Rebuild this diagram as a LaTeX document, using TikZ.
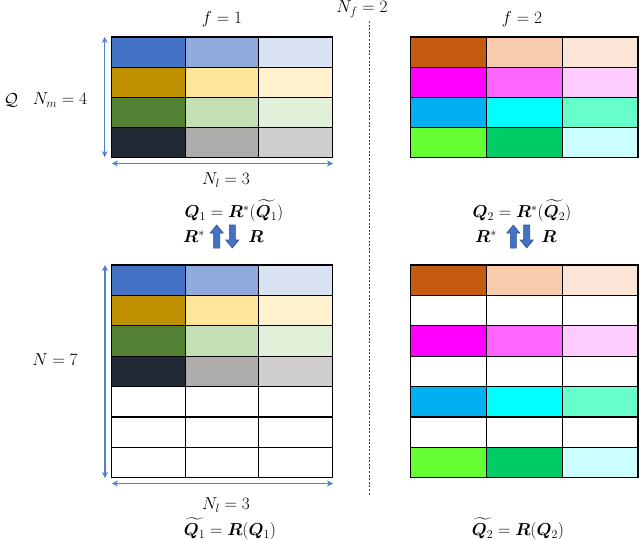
\documentclass[tikz,border=0pt]{standalone}
\usepackage{amsmath,amssymb,bm}
\usetikzlibrary{arrows.meta}
\definecolor{dimblue}{HTML}{4F7FD0}
\definecolor{arrfill}{HTML}{4472C4}
\definecolor{arredge}{HTML}{2F528F}
% left palette
\definecolor{La}{HTML}{4472C4}\definecolor{Lb}{HTML}{8FAADC}\definecolor{Lc}{HTML}{DAE3F3}
\definecolor{Ld}{HTML}{BF9000}\definecolor{Le}{HTML}{FFE699}\definecolor{Lf}{HTML}{FFF2CC}
\definecolor{Lg}{HTML}{548235}\definecolor{Lh}{HTML}{C5E0B4}\definecolor{Li}{HTML}{E2F0D9}
\definecolor{Lj}{HTML}{222A35}\definecolor{Lk}{HTML}{AEABAB}\definecolor{Ll}{HTML}{D0CECE}
% right palette
\definecolor{Ra}{HTML}{C55A11}\definecolor{Rb}{HTML}{F8CBAD}\definecolor{Rc}{HTML}{FBE5D6}
\definecolor{Rd}{HTML}{FF00FF}\definecolor{Re}{HTML}{FF66FF}\definecolor{Rf}{HTML}{FFCCFF}
\definecolor{Rg}{HTML}{00B0F0}\definecolor{Rh}{HTML}{00FFFF}\definecolor{Ri}{HTML}{66FFCC}
\definecolor{Rj}{HTML}{66FF33}\definecolor{Rk}{HTML}{00CC66}\definecolor{Rl}{HTML}{CCFFFF}
\tikzset{
  cell/.style={draw=black, line width=1.1pt, inner sep=0pt, outer sep=0pt, anchor=north west},
  lbl/.style={inner sep=0pt, font=\fontsize{17.5}{21}\selectfont},
  eqlbl/.style={inner sep=0pt, font=\fontsize{17}{21}\selectfont},
  dimarrow/.style={draw=dimblue, line width=1.2pt, {Stealth[length=6pt,width=6pt]}-{Stealth[length=6pt,width=6pt]}},
  blockarrow/.style={fill=arrfill, draw=arredge, line width=0.6pt},
  sepline/.style={draw=black!75, line width=1pt, dash pattern=on 2pt off 1.6pt}
}
\begin{document}
\begin{tikzpicture}[x=1pt,y=-1pt]
\useasboundingbox (0,0) rectangle (640,539);
% ---------- top-left grid (f=1) ----------
\foreach \c [count=\i from 0] in {La,Lb,Lc,Ld,Le,Lf,Lg,Lh,Li,Lj,Lk,Ll}{
  \pgfmathtruncatemacro{\row}{int(\i/3)}
  \pgfmathtruncatemacro{\col}{mod(\i,3)}
  \node[cell, fill=\c, minimum width=73.7pt, minimum height=30.1pt]
    (tl-\row-\col) at ({111.5+73.7*\col},{37+30.1*\row}) {};
}
% ---------- top-right grid (f=2) ----------
\foreach \c [count=\i from 0] in {Ra,Rb,Rc,Rd,Re,Rf,Rg,Rh,Ri,Rj,Rk,Rl}{
  \pgfmathtruncatemacro{\row}{int(\i/3)}
  \pgfmathtruncatemacro{\col}{mod(\i,3)}
  \node[cell, fill=\c, minimum width=75.9pt, minimum height=30.1pt]
    (tr-\row-\col) at ({410.3+75.9*\col},{37+30.1*\row}) {};
}
% ---------- bottom-left grid ----------
\foreach \c [count=\i from 0] in {La,Lb,Lc,Ld,Le,Lf,Lg,Lh,Li,Lj,Lk,Ll,white,white,white,white,white,white,white,white,white}{
  \pgfmathtruncatemacro{\row}{int(\i/3)}
  \pgfmathtruncatemacro{\col}{mod(\i,3)}
  \node[cell, fill=\c, minimum width=73.7pt, minimum height=30.4pt]
    (bl-\row-\col) at ({111.5+73.7*\col},{265+30.4*\row}) {};
}
% ---------- bottom-right grid ----------
\foreach \c [count=\i from 0] in {Ra,Rb,Rc,white,white,white,Rd,Re,Rf,white,white,white,Rg,Rh,Ri,white,white,white,Rj,Rk,Rl}{
  \pgfmathtruncatemacro{\row}{int(\i/3)}
  \pgfmathtruncatemacro{\col}{mod(\i,3)}
  \node[cell, fill=\c, minimum width=75.9pt, minimum height=30.4pt]
    (br-\row-\col) at ({410.3+75.9*\col},{265+30.4*\row}) {};
}
% ---------- dimension arrows ----------
\coordinate (tv1) at (104.7,37);  \coordinate (tv2) at (104.7,157);
\coordinate (th1) at (112,163.5); \coordinate (th2) at (333,163.5);
\coordinate (bv1) at (105,265);   \coordinate (bv2) at (105,478);
\coordinate (bh1) at (112,483.5); \coordinate (bh2) at (333,483.5);
\draw[dimarrow] (tv1) -- (tv2);
\draw[dimarrow] (th1) -- (th2);
\draw[dimarrow] (bv1) -- (bv2);
\draw[dimarrow] (bh1) -- (bh2);
% ---------- separator ----------
\coordinate (s1) at (369,21); \coordinate (s2) at (369,496);
\draw[sepline] (s1) -- (s2);
% ---------- labels ----------
\node[lbl] (f1) at (222,19) {$f=1$};
\node[lbl] (f2) at (522,19) {$f=2$};
\node[lbl] (nf) at (362,9) {$N_f=2$};
\node[lbl] (calq) at (11,100) {$\mathcal{Q}$};
\node[lbl] (nm) at (60,100) {$N_m=4$};
\node[lbl] (nl1) at (226,180) {$N_l=3$};
\node[lbl] (n7) at (55,360) {$N=7$};
\node[lbl] (nl2) at (226,505) {$N_l=3$};
\node[eqlbl] (eq1) at (234,211) {$\boldsymbol{Q}_1=\boldsymbol{R}^{*}(\widetilde{\boldsymbol{Q}_1})$};
\node[eqlbl] (eq2) at (522,211) {$\boldsymbol{Q}_2=\boldsymbol{R}^{*}(\widetilde{\boldsymbol{Q}_2})$};
\node[eqlbl] (eq3) at (230,529) {$\widetilde{\boldsymbol{Q}_1}=\boldsymbol{R}(\boldsymbol{Q}_1)$};
\node[eqlbl] (eq4) at (518,529) {$\widetilde{\boldsymbol{Q}_2}=\boldsymbol{R}(\boldsymbol{Q}_2)$};
\node[eqlbl] (rs1) at (194,237) {$\boldsymbol{R}^{*}$};
\node[eqlbl] (r1) at (256,237) {$\boldsymbol{R}$};
\node[eqlbl] (rs2) at (486,237) {$\boldsymbol{R}^{*}$};
\node[eqlbl] (r2) at (549,237) {$\boldsymbol{R}$};
% ---------- block arrows ----------
\foreach \cx/\up in {216.7/1,232.3/0,513.3/1,526.7/0}{
  \ifnum\up=1
    \draw[blockarrow] (\cx-3,248) -- (\cx-3,233) -- (\cx-6.5,233) -- (\cx,225) -- (\cx+6.5,233) -- (\cx+3,233) -- (\cx+3,248) -- cycle;
  \else
    \draw[blockarrow] (\cx-3,225) -- (\cx-3,240) -- (\cx-6.5,240) -- (\cx,248) -- (\cx+6.5,240) -- (\cx+3,240) -- (\cx+3,225) -- cycle;
  \fi
}
\end{tikzpicture}
\end{document}
